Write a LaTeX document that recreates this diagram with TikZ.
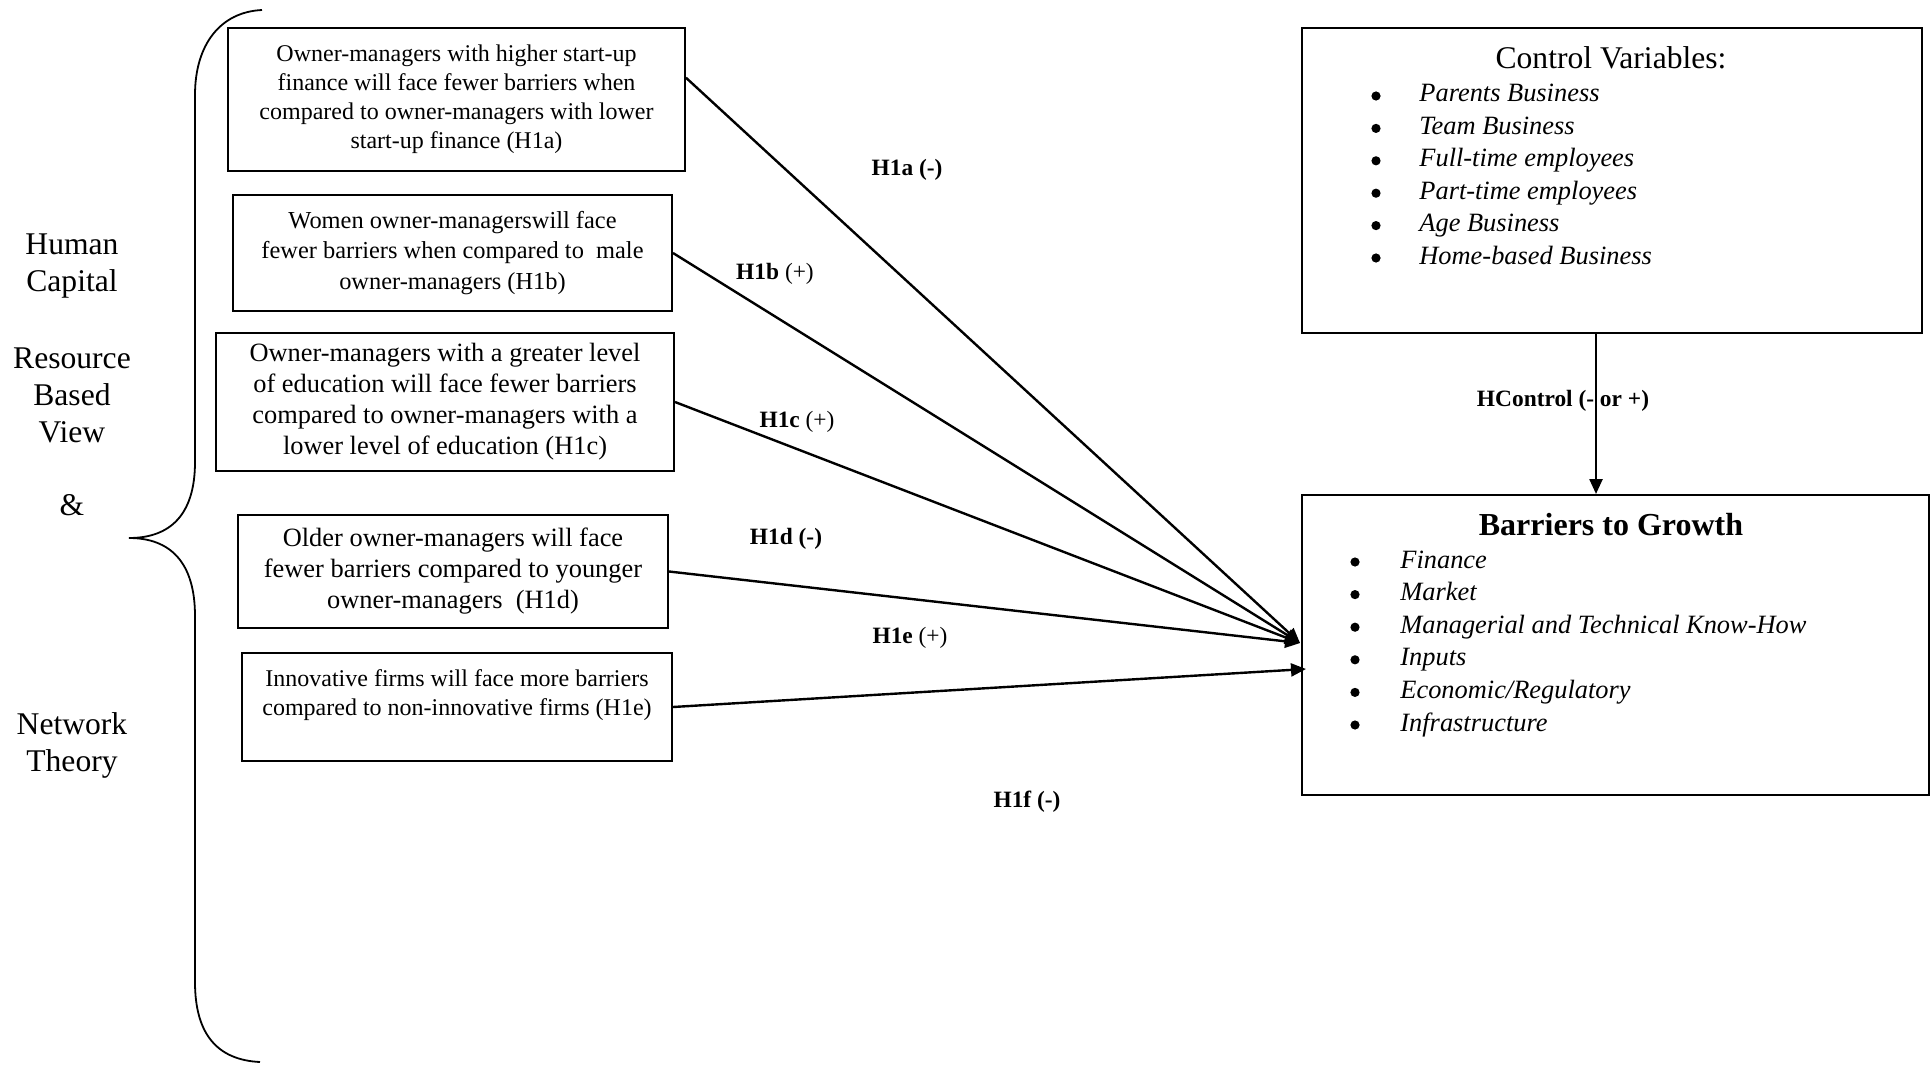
\documentclass[tikz,border=0pt]{standalone}
\usepackage{fontspec}
\setmainfont{Liberation Serif}
\usetikzlibrary{arrows.meta,calc}
\tikzset{
  hbox/.style={draw, line width=1pt, inner sep=0pt, align=center},
  conn/.style={line width=1.2pt, -{Triangle[length=7.5pt,width=6.5pt]}},
  lab/.style={font=\fontsize{11.7}{14}\selectfont},
  item/.style={anchor=west, inner sep=0pt, text height=0.75em, text depth=0.25em, font=\fontsize{13.2}{15}\selectfont\itshape},
  bul/.style={circle, fill=black, inner sep=0pt, minimum size=4.6pt},
  side/.style={align=center, font=\fontsize{15.8}{18.5}\selectfont}
}
\begin{document}
\begin{tikzpicture}[x=0.5pt,y=-0.5pt]
\useasboundingbox (0,0) rectangle (1932,1065);

% left side labels
\node[side] (hc) at (72,266.5) {Human\\Capital};
\node[side] (rbv) at (72,395) {Resource\\Based\\View};
\node[side] (amp) at (72,505) {\&};
\node[side] (nt) at (72,745.5) {Network\\Theory};

% brace
\draw[line width=0.9pt] (262,10) .. controls (220,12) and (195,45) .. (195,95)
  -- (195,462) .. controls (195,515) and (170,538) .. (129,538)
  .. controls (170,538) and (195,562) .. (195,616)
  -- (195,982) .. controls (195,1035) and (218,1060) .. (260,1062);

% hypothesis boxes
\node[hbox, minimum width=228.5pt, minimum height=71.5pt, font=\fontsize{12}{14.5}\selectfont] (b1) at (456.5,99.5)
  {Owner-managers with higher start-up\\finance will face fewer barriers when\\compared to owner-managers with lower\\start-up finance (H1a)};
\node[hbox, minimum width=219.5pt, minimum height=58pt, font=\fontsize{12.2}{15.2}\selectfont] (b2) at (452.5,253)
  {Women owner-managerswill face\\fewer barriers when compared to\ \ male\\owner-managers (H1b)};
\node[hbox, minimum width=229pt, minimum height=69pt, font=\fontsize{13.2}{15.5}\selectfont] (b3) at (445,402)
  {Owner-managers with a greater level\\of education will face fewer barriers\\compared to owner-managers with a\\lower level of education (H1c)};
\node[hbox, minimum width=215pt, minimum height=56.5pt, font=\fontsize{13.2}{15.5}\selectfont] (b4) at (453,571.5)
  {Older owner-managers will face\\fewer barriers compared to younger\\owner-managers\ \ (H1d)};
\node[hbox, minimum width=215pt, minimum height=54pt, font=\fontsize{12}{14.5}\selectfont] (b5) at (457,707)
  {Innovative firms will face more barriers\\compared to non-innovative firms (H1e)\\\mbox{}};

% control variables box
\node[hbox, minimum width=310pt, minimum height=152.5pt] (ctrl) at (1612,180.5) {};
\node[inner sep=0pt, font=\fontsize{15.8}{18}\selectfont] (ctitle) at (1611,58) {Control Variables:};
\foreach \t [count=\i from 0] in {Parents Business, Team Business, Full-time employees, Part-time employees, Age Business, Home-based Business}{
  \node[bul] (cvb\i) at (1376,{96+32.4*\i}) {};
  \node[item] (cv\i) at (1419,{97+32.4*\i}) {\t};
}

% barriers box
\node[hbox, minimum width=313.5pt, minimum height=150pt] (bar) at (1615.5,645) {};
\node[inner sep=0pt, font=\fontsize{16}{18}\selectfont\bfseries] (btitle) at (1611,525) {Barriers to Growth};
\foreach \t [count=\i from 0] in {Finance, Market, Managerial and Technical Know-How, Inputs, Economic/Regulatory, Infrastructure}{
  \node[bul] (bib\i) at (1355,{562+32.6*\i}) {};
  \node[item] (bi\i) at (1400,{563+32.6*\i}) {\t};
}

% connectors
\draw[conn] ($(b1.north east)!0.35!(b1.south east)$) -- ($(bar.west)+(-1,-2)$);
\draw[conn] (b2.east) -- ($(bar.west)+(-1,-2)$);
\draw[conn] (b3.east) -- ($(bar.west)+(-1,-2)$);
\draw[conn] (b4.east) -- ($(bar.west)+(-1,-2)$);
\draw[conn] (b5.east) -- ($(bar.west)+(5,24)$);
\draw[conn] ($(ctrl.south)+(-16,0)$) -- ($(bar.north)+(-19.5,0)$);

% labels
\node[lab] (l1a) at (907,170) {\textbf{H1a (-)}};
\node[lab] (l1b) at (775,274) {\textbf{H1b} (+)};
\node[lab] (l1c) at (797,422) {\textbf{H1c} (+)};
\node[lab] (l1d) at (786,539) {\textbf{H1d (-)}};
\node[lab] (l1e) at (910,638) {\textbf{H1e} (+)};
\node[lab] (l1f) at (1027,802) {\textbf{H1f (-)}};
\node[lab] (lhc) at (1563,401) {\textbf{HControl (- or +)}};
\end{tikzpicture}
\end{document}
